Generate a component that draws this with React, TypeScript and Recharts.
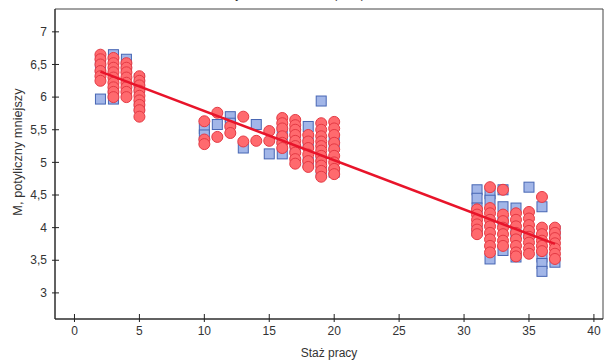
import { ScatterChart, Scatter, XAxis, YAxis, ReferenceArea } from "recharts"

// years of work experience (x) for every column of measurements
const STAZ = [2, 3, 4, 5, 10, 11, 12, 13, 14, 15, 16, 17, 18, 19, 20, 31, 32, 33, 34, 35, 36, 37]

// M. potyliczny mniejszy, group drawn as red circles (one list per STAZ entry)
const RED_VALUES = [
  [6.65, 6.58, 6.5, 6.4, 6.32, 6.25],
  [6.6, 6.52, 6.45, 6.38, 6.3, 6.22, 6.15, 6.08, 6.0],
  [6.52, 6.45, 6.38, 6.3, 6.22, 6.15, 6.08, 6.0],
  [6.32, 6.25, 6.18, 6.1, 6.02, 5.95, 5.88, 5.8, 5.7],
  [5.63, 5.35, 5.28],
  [5.76, 5.39],
  [5.55, 5.45],
  [5.7, 5.32],
  [5.33],
  [5.48, 5.33],
  [5.68, 5.6, 5.52, 5.4, 5.3, 5.22],
  [5.65, 5.57, 5.5, 5.42, 5.33, 5.25, 5.15, 5.05, 4.98],
  [5.42, 5.32, 5.22, 5.12, 5.02, 4.93],
  [5.6, 5.5, 5.4, 5.32, 5.25, 5.18, 5.1, 5.02, 4.95, 4.87, 4.78],
  [5.62, 5.52, 5.42, 5.3, 5.2, 5.1, 5.0, 4.9, 4.82],
  [4.28, 4.2, 4.12, 4.05, 3.97, 3.9],
  [4.62, 4.3, 4.22, 4.12, 4.02, 3.92, 3.82, 3.72, 3.62],
  [4.58, 4.2, 4.1, 4.0, 3.9, 3.8, 3.72],
  [4.22, 4.12, 4.02, 3.92, 3.82, 3.72, 3.62, 3.56],
  [4.24, 4.14, 4.04, 3.95, 3.86, 3.77, 3.68, 3.6],
  [4.47, 4.0, 3.9, 3.8, 3.72, 3.64],
  [4.0, 3.92, 3.84, 3.76, 3.68, 3.6, 3.52],
]

// second group, drawn as blue squares
const BLUE_VALUES = [
  [6.55, 6.45, 5.97],
  [6.65, 6.05, 5.97],
  [6.58, 6.48],
  [6.28, 6.15, 5.85],
  [5.52, 5.42],
  [5.58],
  [5.7, 5.6],
  [5.22],
  [5.58],
  [5.13],
  [5.47, 5.35, 5.13],
  [5.45, 5.2],
  [5.55, 5.3, 5.0],
  [5.94, 5.05, 4.85],
  [5.35, 5.25, 4.85],
  [4.58, 4.45, 4.3, 3.95],
  [4.52, 4.42, 3.52],
  [4.58, 4.32, 4.1, 3.65],
  [4.3, 3.9, 3.55],
  [4.62, 3.9],
  [4.32, 3.55, 3.45, 3.33],
  [3.95, 3.47],
]

const X_TICKS = [0, 5, 10, 15, 20, 25, 30, 35, 40]
const Y_TICKS = [3, 3.5, 4, 4.5, 5, 5.5, 6, 6.5, 7]
const X_DOMAIN = [-1.5, 40.7]
const Y_DOMAIN = [2.6, 7.35]

// linear fit over the whole sample
const FIT_INTERCEPT = 6.54
const FIT_SLOPE = -0.0754
const FIT_RANGE = [2, 37]

const toPoints = (cols: number[][]) =>
  cols.flatMap((vals, i) => vals.map((y) => ({ x: STAZ[i], y })))

const redPoints = toPoints(RED_VALUES)
const bluePoints = toPoints(BLUE_VALUES)
const fitPoints = FIT_RANGE.map((x) => ({ x, y: FIT_INTERCEPT + FIT_SLOPE * x }))

const FONT = "'Liberation Sans', Arial, sans-serif"
const TEXT = "#333"
const AXIS = "#222"

const fmt = (v: number) => String(v).replace(".", ",")

function XTick({ x, y, payload }: any) {
  // y is below the axis line by tickSize + tickMargin
  const axisY = y - 8
  return (
    <g>
      <line x1={x} x2={x} y1={axisY - 5} y2={axisY + 3} stroke={AXIS} />
      <text x={x} y={axisY + 16} textAnchor="middle" fontSize={12} fill={TEXT} fontFamily={FONT}>
        {fmt(payload.value)}
      </text>
    </g>
  )
}

function YTick({ x, y, payload }: any) {
  const axisX = x + 8
  return (
    <g>
      <line x1={axisX - 3} x2={axisX + 4} y1={y} y2={y} stroke={AXIS} />
      <text x={axisX - 8} y={y} dy="0.35em" textAnchor="end" fontSize={12} fill={TEXT} fontFamily={FONT}>
        {fmt(payload.value)}
      </text>
    </g>
  )
}

function YLabel({ viewBox }: any) {
  const cx = 17
  const cy = viewBox.y + viewBox.height / 2 - 12
  return (
    <text
      x={cx}
      y={cy}
      transform={`rotate(-90 ${cx} ${cy})`}
      textAnchor="middle"
      dominantBaseline="central"
      fontSize={12.8}
      fill={TEXT}
      fontFamily={FONT}
    >
      M, potyliczny mniejszy
    </text>
  )
}

function XLabel({ viewBox }: any) {
  return (
    <text
      x={viewBox.x + viewBox.width / 2}
      y={viewBox.y + 38}
      textAnchor="middle"
      fontSize={12}
      fill={TEXT}
      fontFamily={FONT}
    >
      Staż pracy
    </text>
  )
}

const Square = ({ cx, cy }: any) => (
  <rect x={cx - 5} y={cy - 5} width={10} height={10} fill="#a2b6e8" stroke="#4766b4" strokeWidth={1} />
)

const Dot = ({ cx, cy }: any) => (
  <circle cx={cx} cy={cy} r={5.5} fill="#ff6a6e" stroke="#e43a44" strokeWidth={1} />
)

export default function App() {
  return (
    <div style={{ position: "absolute", left: 0, top: 0, background: "#fff" }}>
      <ScatterChart width={613} height={363} margin={{ top: 9, right: 10, bottom: 0, left: 0 }}>
        <text x={300} y={-2} textAnchor="middle" fontSize={12} fill={TEXT} fontFamily={FONT}>
          y=6,54 + -0,08 * x (0,84)
        </text>
        <XAxis
          type="number"
          dataKey="x"
          domain={X_DOMAIN}
          ticks={X_TICKS}
          allowDataOverflow
          height={44}
          stroke={AXIS}
          tickLine={false}
          tickSize={6}
          tick={<XTick />}
          label={<XLabel />}
        />
        <YAxis
          type="number"
          dataKey="y"
          domain={Y_DOMAIN}
          ticks={Y_TICKS}
          allowDataOverflow
          width={55}
          stroke={AXIS}
          tickLine={false}
          tickSize={6}
          tick={<YTick />}
          label={<YLabel />}
        />
        {/* frame around the plot area */}
        <ReferenceArea
          x1={X_DOMAIN[0]}
          x2={X_DOMAIN[1]}
          y1={Y_DOMAIN[0]}
          y2={Y_DOMAIN[1]}
          fill="none"
          stroke="#444"
          strokeWidth={1}
          ifOverflow="visible"
        />
        <Scatter data={bluePoints} shape={Square} isAnimationActive={false} />
        <Scatter data={redPoints} shape={Dot} isAnimationActive={false} />
        <Scatter
          data={fitPoints}
          line={{ stroke: "#e8142a", strokeWidth: 2.5 }}
          shape={() => <g />}
          isAnimationActive={false}
        />
      </ScatterChart>
    </div>
  )
}
